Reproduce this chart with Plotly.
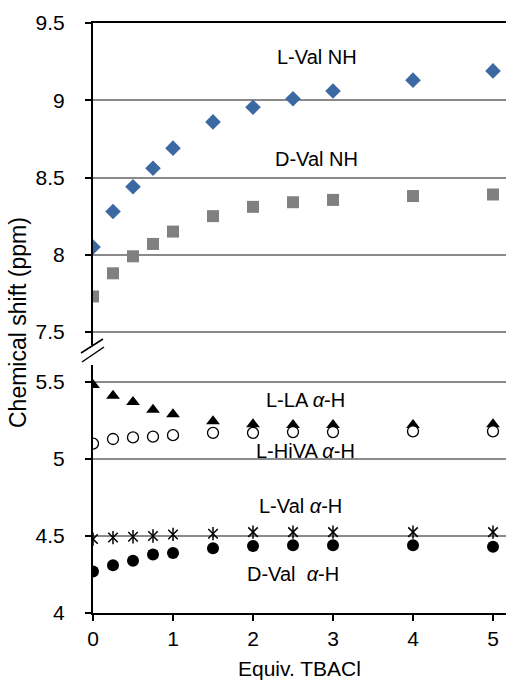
import plotly.graph_objects as go

equiv = [0, 0.25, 0.5, 0.75, 1, 1.5, 2, 2.5, 3, 4, 5]
l_val_nh = [8.05, 8.28, 8.44, 8.56, 8.69, 8.86, 8.955, 9.01, 9.06, 9.13, 9.19]
d_val_nh = [7.73, 7.88, 7.99, 8.07, 8.15, 8.25, 8.31, 8.34, 8.355, 8.38, 8.39]
l_la_ah = [5.48, 5.41, 5.37, 5.32, 5.29, 5.245, 5.225, 5.22, 5.22, 5.22, 5.225]
l_hiva_ah = [5.10, 5.13, 5.14, 5.145, 5.155, 5.17, 5.17, 5.175, 5.175, 5.18, 5.18]
l_val_ah = [4.48, 4.49, 4.495, 4.50, 4.51, 4.515, 4.525, 4.525, 4.525, 4.525, 4.525]
d_val_ah = [4.27, 4.31, 4.34, 4.38, 4.39, 4.42, 4.435, 4.44, 4.44, 4.44, 4.43]

upper_ticks = [7.5, 8, 8.5, 9, 9.5]
upper_labels = ["7.5", "8", "8.5", "9", "9.5"]
lower_ticks = [4, 4.5, 5, 5.5]
lower_labels = ["4", "4.5", "5", "5.5"]
x_ticks = [0, 1, 2, 3, 4, 5]

FONT = "Liberation Sans, Arial, sans-serif"
W, H = 506, 680
ML, MR, MT, MB = 93, 0, 23, 67
PW, PH = W - ML - MR, H - MT - MB


def px2py(py):
    return (H - MB - py) / PH


def px2px(px):
    return (px - ML) / PW


fig = go.Figure()

# upper panel (NH)
fig.add_trace(go.Scatter(x=equiv, y=l_val_nh, mode="markers", xaxis="x2", yaxis="y2",
                         marker=dict(symbol="diamond", size=12, color="#3C69A2"), name="L-Val NH"))
fig.add_trace(go.Scatter(x=equiv, y=d_val_nh, mode="markers", xaxis="x2", yaxis="y2",
                         marker=dict(symbol="square", size=12, color="#808080"), name="D-Val NH"))

# lower panel (alpha-H)
fig.add_trace(go.Scatter(x=equiv, y=l_la_ah, mode="markers", xaxis="x", yaxis="y",
                         marker=dict(symbol="triangle-up", size=12, color="black"), name="L-LA"))
fig.add_trace(go.Scatter(x=equiv, y=l_hiva_ah, mode="markers", xaxis="x", yaxis="y",
                         marker=dict(symbol="circle", size=11, color="white",
                                     line=dict(color="black", width=1.3)), name="L-HiVA"))
fig.add_trace(go.Scatter(x=equiv, y=l_val_ah, mode="markers", xaxis="x", yaxis="y",
                         marker=dict(symbol="x-thin-open", size=9.5, color="black",
                                     line=dict(color="black", width=1.5)), name="L-Val aH"))
fig.add_trace(go.Scatter(x=equiv, y=l_val_ah, mode="markers", xaxis="x", yaxis="y",
                         marker=dict(symbol="line-ns-open", size=9.5, color="black",
                                     line=dict(color="black", width=1.5)), name="L-Val aH2"))
fig.add_trace(go.Scatter(x=equiv, y=d_val_ah, mode="markers", xaxis="x", yaxis="y",
                         marker=dict(symbol="circle", size=12, color="black"), name="D-Val aH"))

xr = [0, PW / 80.0]
upper_bottom_px, lower_top_px = 345, 365
upper_range = [7.5 - (upper_bottom_px - 332) / 154.5, 9.5]
lower_range = [4, 5.5 + (382 - lower_top_px) / 154.0]

common_y = dict(showline=True, linecolor="black", linewidth=2, ticks="outside", ticklen=6,
                tickwidth=2, tickcolor="black", showgrid=True, gridcolor="#8a8a8a", gridwidth=2,
                zeroline=False, ticklabelstandoff=16,
                tickfont=dict(family=FONT, size=21, color="black"))

fig.update_layout(
    width=W, height=H, margin=dict(l=ML, r=MR, t=MT, b=MB),
    paper_bgcolor="white", plot_bgcolor="white", showlegend=False,
    xaxis=dict(domain=[0, 1], range=xr, anchor="y", tickvals=x_ticks, showline=True,
               linecolor="black", linewidth=2, ticks="outside", ticklen=6, tickwidth=2,
               tickcolor="black", showgrid=False, zeroline=False, ticklabelstandoff=0,
               tickfont=dict(family=FONT, size=21, color="black")),
    xaxis2=dict(domain=[0, 1], range=xr, anchor="y2", side="top", showline=True,
                linecolor="black", linewidth=2, showticklabels=False, ticks="",
                showgrid=False, zeroline=False),
    yaxis=dict(domain=[0, px2py(lower_top_px)], range=lower_range, anchor="x",
               tickvals=lower_ticks, ticktext=lower_labels, **common_y),
    yaxis2=dict(domain=[px2py(upper_bottom_px), 1], range=upper_range, anchor="x2",
                tickvals=upper_ticks, ticktext=upper_labels, **common_y),
)

# break marks
for (x0, y0, x1, y1) in [(81, 353, 103, 339), (82, 362, 104, 347)]:
    fig.add_shape(type="line", xref="paper", yref="paper",
                  x0=px2px(x0), y0=px2py(y0), x1=px2px(x1), y1=px2py(y1),
                  line=dict(color="black", width=1.5))

ann_font = dict(family=FONT, size=20, color="black")
labels = [
    ("L-Val NH", 2.8, 9.28, "x2", "y2"),
    ("D-Val NH", 2.79, 8.617, "x2", "y2"),
    ("L-LA <i>α</i>-H", 2.65, 5.383, "x", "y"),
    ("L-HiVA <i>α</i>-H", 2.65, 5.052, "x", "y"),
    ("L-Val <i>α</i>-H", 2.59, 4.695, "x", "y"),
    ("D-Val  <i>α</i>-H", 2.5, 4.256, "x", "y"),
]
for txt, xv, yv, xr_, yr_ in labels:
    fig.add_annotation(text=txt, x=xv, y=yv, xref=xr_, yref=yr_, showarrow=False,
                       font=ann_font, xanchor="center", yanchor="middle")

fig.add_annotation(text="Chemical shift (ppm)", x=px2px(18), y=px2py(323), xref="paper",
                   yref="paper", showarrow=False, textangle=-90,
                   font=dict(family=FONT, size=23, color="black"),
                   xanchor="center", yanchor="middle")
fig.add_annotation(text="Equiv. TBACl", x=px2px(299.5), y=px2py(668), xref="paper",
                   yref="paper", showarrow=False,
                   font=dict(family=FONT, size=21, color="black"),
                   xanchor="center", yanchor="middle")

fig.write_html("out.html", config={"displayModeBar": False},
               post_script="document.body.style.margin='0px';document.body.style.padding='0px';")
